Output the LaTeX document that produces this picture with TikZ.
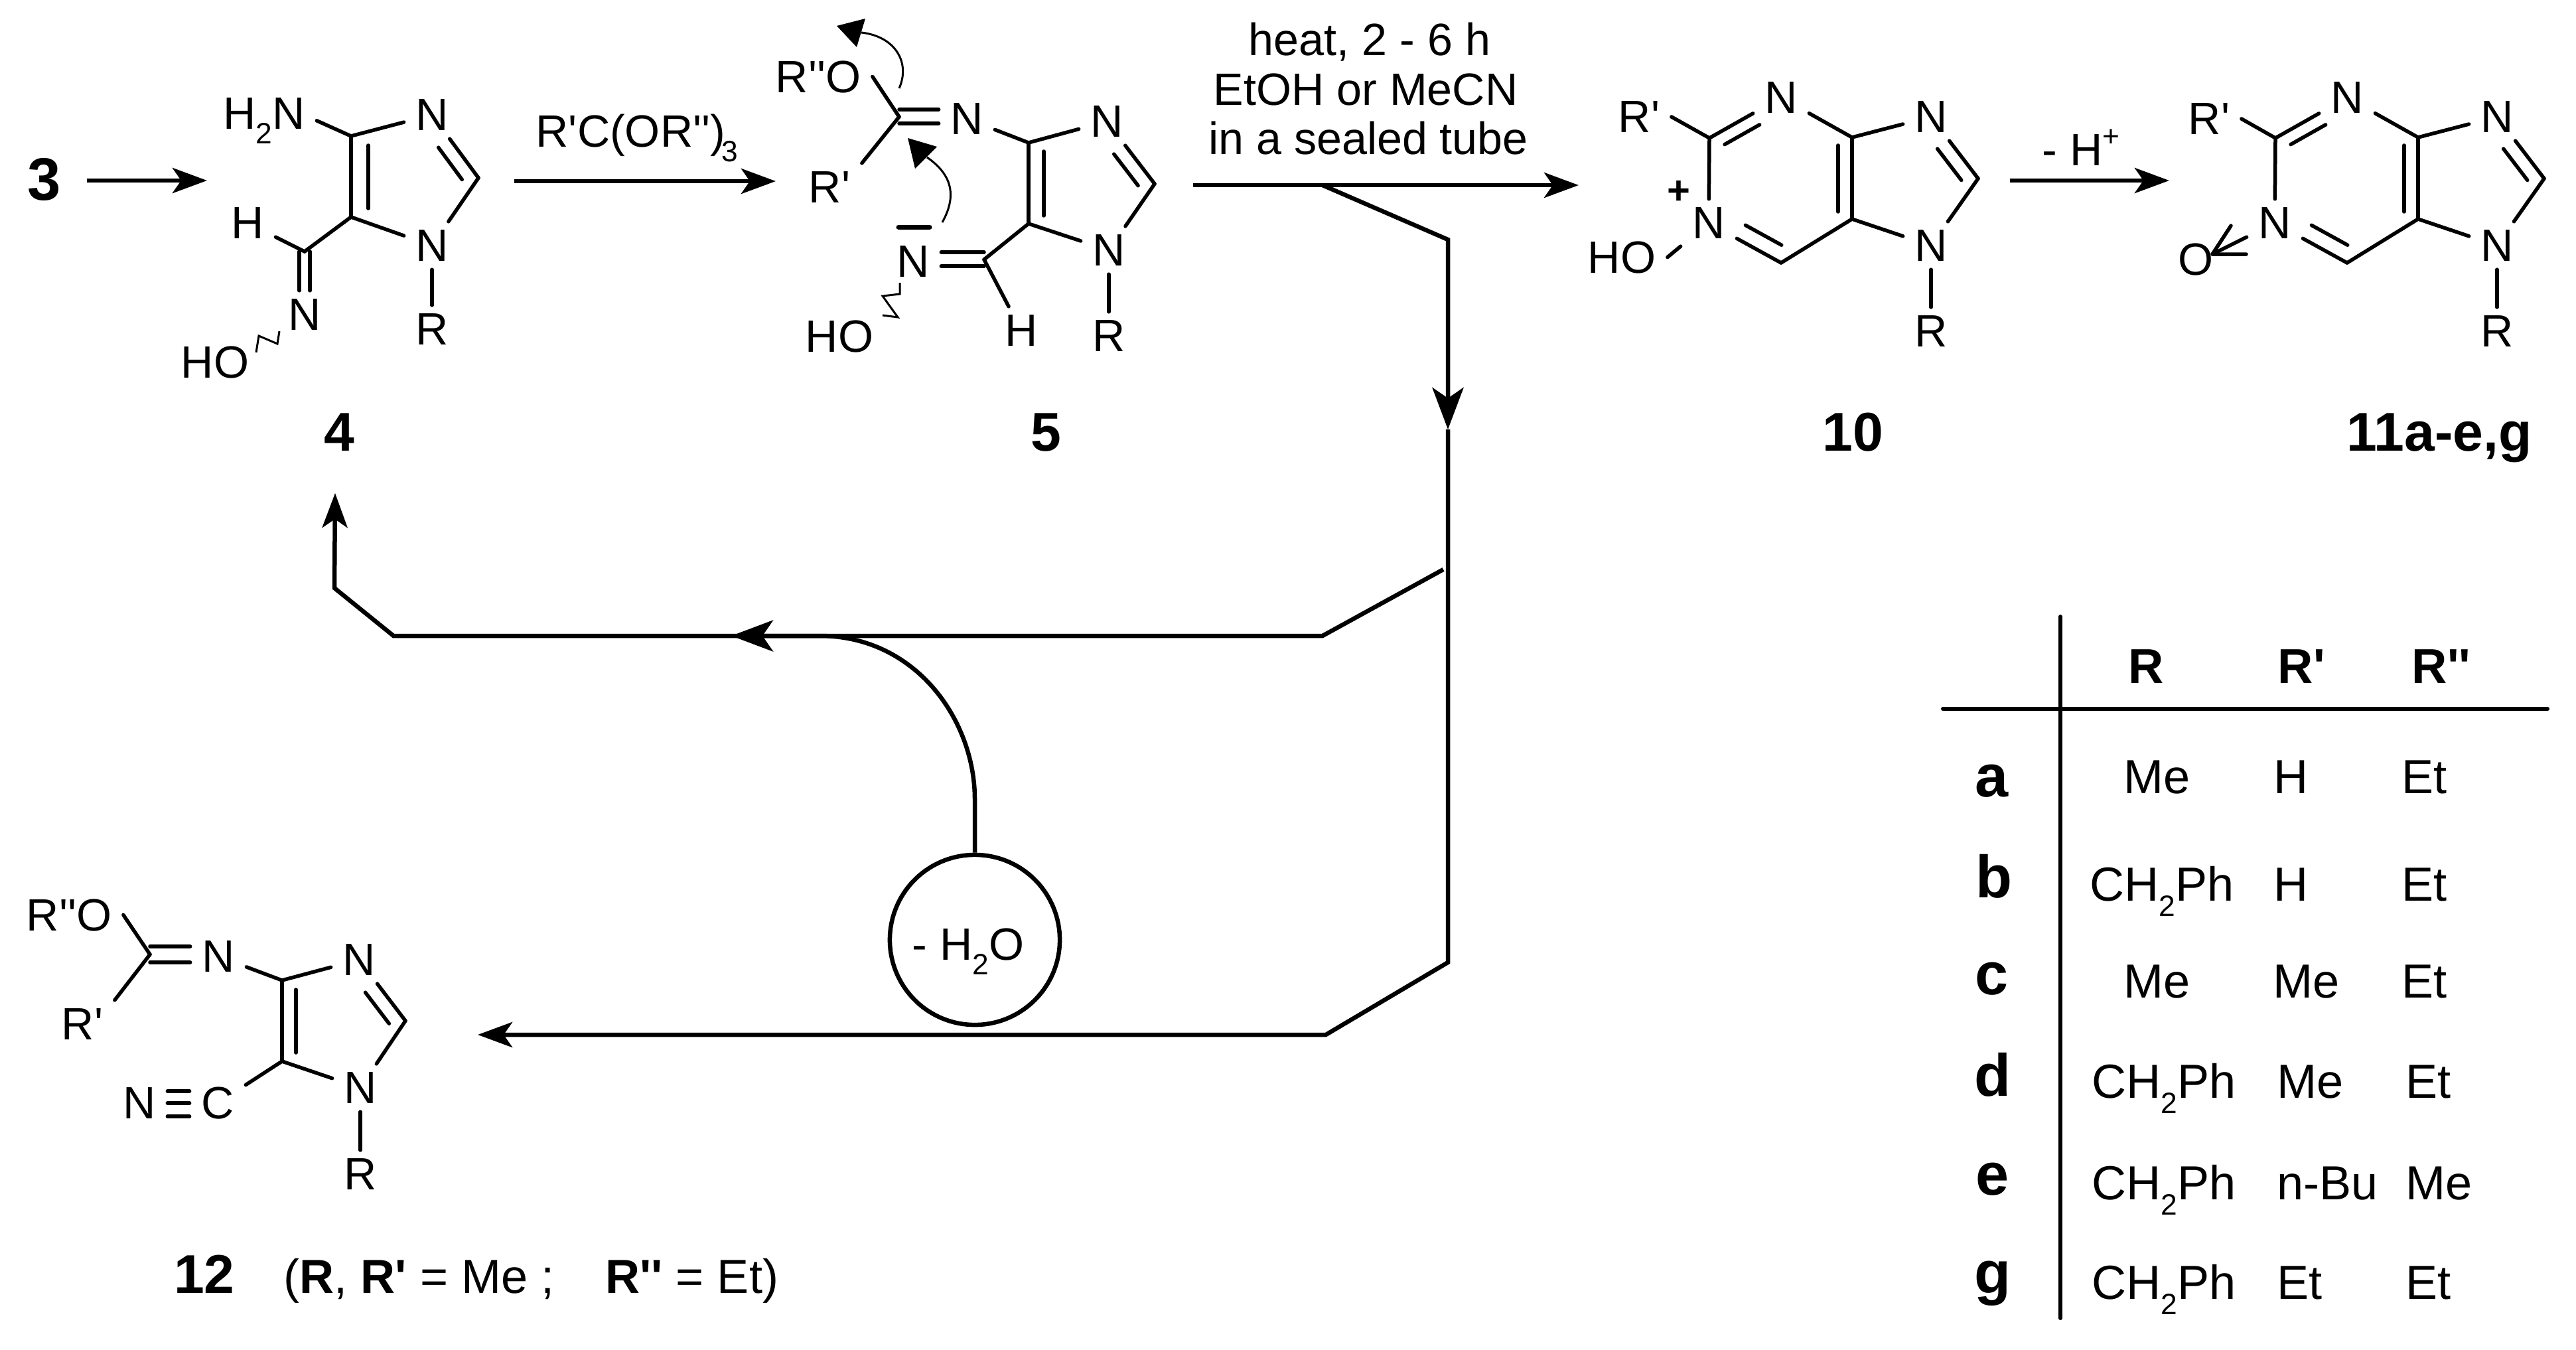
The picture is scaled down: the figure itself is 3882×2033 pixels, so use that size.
\documentclass[tikz,border=0pt]{standalone}
\usepackage{fontspec}
\setmainfont{Liberation Sans}[Ligatures=TeXOff]
\usetikzlibrary{positioning, arrows.meta, calc}
\newcommand{\chemsub}[1]{\raisebox{-0.33em}{\fontsize{12.6}{14}\selectfont #1}}
\newcommand{\chemsup}[1]{\raisebox{0.42em}{\fontsize{12.6}{14}\selectfont #1}}
\tikzset{
  chemfont/.style={font=\fontsize{19.4}{21}\selectfont},
  atom/.style={chemfont, inner xsep=0.17cm, inner ysep=0.12cm},
  lbl/.style={chemfont, inner sep=0pt, anchor=base},
  cmpd/.style={font=\fontsize{23.4}{25}\selectfont\bfseries, inner sep=0pt, anchor=base},
  cell/.style={font=\fontsize{20.5}{22}\selectfont, inner sep=0pt, anchor=base west},
  bond/.style={line width=0.055cm, line cap=round, line join=round},
  wig/.style={line width=0.03cm},
  innerbond/.style n args={4}{transform canvas={shift={(#1,#2)}}, shorten <=#3, shorten >=#4},
  path/.style={line width=0.065cm, line join=miter},
  rxn/.style={path, -{Stealth[length=5.2mm, width=3.8mm, inset=1.3mm]}},
  rxnbig/.style={path, -{Stealth[length=6.3mm, width=4.7mm, inset=1.6mm]}},
}

\begin{document}
\begin{tikzpicture}[x=0.01cm, y=-0.01cm, >=Stealth]
\useasboundingbox (0,0) rectangle (3882,2033);

% Composes 3 et 4
\node[cmpd, font=\fontsize{25.7}{27}\selectfont\bfseries] (cpdthree) at (67,301) {3};
\node[atom] (n3a) at (651,173) {N};
\node[atom] (n1a) at (651,370) {N};
\node[atom] (ra) at (651,496) {R};
\node[atom] (ha) at (373,336) {H};
\node[atom] (noa) at (459,474) {N};
\node[atom, anchor=base] (h2na) at (398,194) {H\chemsub{2}N};
\node[lbl] (hoa) at (324,569) {HO};
\node[cmpd] (cpdfour) at (511,679) {4};
\foreach \nm/\cx/\cy in {c4a/529/205, c5a/529/327, c2a/721/268, cha/459/379,
    wa1/386/531, wa2/390/506, wa3/418/518, wa4/421/499} {
  \coordinate (\nm) at (\cx,\cy);
}
\foreach \p/\q in {c4a/n3a, c2a/n3a, c2a/n1a, c5a/n1a, n1a/ra, c4a/c5a, c5a/cha, cha/ha, c4a/h2na.east} {
  \draw[bond] (\p) -- (\q);
}
\draw[bond, innerbond={26}{0}{0.14cm}{0.13cm}] (c4a) -- (c5a);
\draw[bond, innerbond={-17}{13}{0.13cm}{0cm}] (c2a) -- (n3a);
\draw[bond, transform canvas={shift={(-8,0)}}] (cha) -- (noa);
\draw[bond, transform canvas={shift={(8,0)}}] (cha) -- (noa);
\draw[wig] (wa1) -- (wa2) -- (wa3) -- (wa4);

% Compose 5
\node[atom] (n3b) at (1668,183) {N};
\node[atom] (n1b) at (1671,377) {N};
\node[atom] (rb) at (1671,506) {R};
\node[atom] (hb) at (1539,498) {H};
\node[atom] (nob) at (1376,394) {N};
\node[atom] (nxb) at (1457,179) {N};
\node[atom] (rpb) at (1250,282) {R'};
\node[atom, anchor=base] (orb) at (1233,139) {R''O};
\node[lbl] (hob) at (1265,530) {HO};
\node[cmpd] (cpdfive) at (1576,679) {5};
\foreach \nm/\cx/\cy in {c4b/1550/215, c5b/1550/337, c2b/1740/277, chb/1483/391, cxb/1355/176,
    mia/1354/342, mib/1401/342,
    wb1/1356/426, wb2/1356/443, wb3/1330/446, wb4/1353/478, wb5/1330/475,
    cua/1355/133, cub/1372/95, cuc/1350/55, cud/1298/49, tua/1304/28, tub/1261/39, tuc/1291/71,
    cla/1420/335, clb/1445/290, clc/1430/260, cld/1397/237, tla/1368/208, tlb/1412/221, tlc/1379/254} {
  \coordinate (\nm) at (\cx,\cy);
}
\foreach \p/\q in {c4b/n3b, c2b/n3b, c2b/n1b, c5b/n1b, n1b/rb, c4b/c5b, c5b/chb, chb/hb, c4b/nxb, cxb/orb.east, cxb/rpb.north east} {
  \draw[bond] (\p) -- (\q);
}
\draw[bond, innerbond={23}{0}{0.13cm}{0.12cm}] (c4b) -- (c5b);
\draw[bond, innerbond={-17}{13}{0.13cm}{0cm}] (c2b) -- (n3b);
\foreach \sy in {-11,10} {
  \draw[bond, transform canvas={shift={(0,\sy)}}] (cxb) -- (nxb.west |- cxb);
  \draw[bond, transform canvas={shift={(0,\sy)}}] (chb) -- (nob.east |- chb);
}
\draw[bond, line width=0.07cm] (mia) -- (mib);
\draw[wig] (wb1) -- (wb2) -- (wb3) -- (wb4) -- (wb5);
\draw[wig] (cua) .. controls (cub) and (cuc) .. (cud);
\draw[wig] (cla) .. controls (clb) and (clc) .. (cld);
\fill (tua) -- (tub) -- (tuc) -- cycle;
\fill (tla) -- (tlb) -- (tlc) -- cycle;

% Composes 10 et 11
\foreach \m/\dx in {d/0, e/853} {
  \node[atom] (nt\m) at (2684+\dx,147) {N};
  \node[atom] (np\m) at (2575+\dx,336) {N};
  \node[atom] (n3\m) at (2910+\dx,176) {N};
  \node[atom] (n1\m) at (2910+\dx,370) {N};
  \node[atom] (r\m) at (2910+\dx,499) {R};
  \foreach \nm/\cx/\cy in {c2/2981/269, c4/2791/207, c5/2791/330, cr/2576/208, ch/2684/396} {
    \coordinate (\nm\m) at (\cx+\dx,\cy);
  }
  \foreach \p/\q in {cr/np, ch/np, ch/c5, c4/c5, c4/nt, c4/n3, c2/n3, c2/n1, c5/n1, n1/r, cr/nt} {
    \draw[bond] (\p\m) -- (\q\m);
  }
  \draw[bond, innerbond={-21}{0}{0.12cm}{0.11cm}] (c4\m) -- (c5\m);
  \draw[bond, innerbond={-18}{12}{0.12cm}{0cm}] (c2\m) -- (n3\m);
  \draw[bond, innerbond={10}{17}{0.15cm}{0cm}] (cr\m) -- (nt\m);
  \draw[bond, innerbond={13}{-20}{0.14cm}{0cm}] (ch\m) -- (np\m);
}
\node[atom] (rpd) at (2470,176) {R'};
\node[atom] (rpe) at (3329,179) {R'};
\node[atom, anchor=base] (hod) at (2444,411) {HO};
\node[atom] (oxe) at (3309,391) {O};
\node[lbl, font=\fontsize{17}{19}\selectfont\bfseries] (chgd) at (2530,307) {+};
\node[cmpd] (cpdten) at (2792,679) {10};
\node[cmpd] (cpdeleven) at (3676,679) {11a-e,g};
\foreach \nm/\cx/\cy in {tipe/3334/383, bae/3362/340, bbe/3385/383} {
  \coordinate (\nm) at (\cx,\cy);
}
\draw[bond] (crd) -- (rpd.east);
\draw[bond] (cre) -- (rpe.east);
\draw[bond] (npd) -- (hod.east);
\draw[bond] (npe) -- (tipe);
\draw[bond] (bae) -- (tipe) -- (bbe);

% Compose 12
\node[atom] (n3f) at (541,1446) {N};
\node[atom] (n1f) at (543,1639) {N};
\node[atom] (rf) at (543,1769) {R};
\node[atom] (nxf) at (329,1441) {N};
\node[atom] (rpf) at (124,1543) {R'};
\node[atom, anchor=base] (orf) at (104,1402) {R''O};
\node[atom] (cnf) at (328,1662) {C};
\node[atom] (ntf) at (210,1662) {N};
\node[cmpd] (cpdtwelve) at (308,1948) {12};
\node[lbl, anchor=base west, font=\fontsize{20.5}{22}\selectfont] (notef) at (427,1948) {(\textbf{R}, \textbf{R'} = Me ;\hspace{1.07em}\textbf{R''} = Et)};
\foreach \nm/\cx/\cy in {c4f/425/1477, c5f/425/1599, c2f/611/1538, cxf/226/1438} {
  \coordinate (\nm) at (\cx,\cy);
}
\foreach \p/\q in {c4f/n3f, c2f/n3f, c2f/n1f, c5f/n1f, n1f/rf, c4f/c5f, c4f/nxf, c5f/cnf, cxf/orf.east, cxf/rpf.north east} {
  \draw[bond] (\p) -- (\q);
}
\draw[bond, innerbond={21}{0}{0.14cm}{0.13cm}] (c4f) -- (c5f);
\draw[bond, innerbond={-18}{13}{0.11cm}{0cm}] (c2f) -- (n3f);
\foreach \sy in {-12,12} {
  \draw[bond, transform canvas={shift={(0,\sy)}}] (cxf) -- (nxf.west |- cxf);
}
\foreach \sy in {-18,0,20} {
  \draw[bond, transform canvas={shift={(0,\sy)}}] (ntf) -- (cnf);
}

% Fleches
\foreach \nm/\cx/\cy in {aa/131/272, ab/312/272, ac/775/273, ad/1169/273, ae/1798/279, af/2379/279,
    ag/3029/272, ah/3269/272, brs/1993/279, brc/2182/361, brm/2182/647, brd/2182/1450, bre/1998/1559, brf/720/1559,
    bls/2175/858, blc/1993/958, bld/593/958, ble/504/886, blf/505/743,
    kink/1469/1204, cva/1469/1085, cvb/1380/958, cvc/1235/958, cvd/1102/958} {
  \coordinate (\nm) at (\cx,\cy);
}
\draw[rxn] (aa) -- (ab);
\draw[rxn] (ac) -- (ad);
\draw[rxn] (ae) -- (af);
\draw[rxn] (ag) -- (ah);
\draw[rxnbig] (brs) -- (brc) -- (brm);
\draw[rxn] (brm) -- (brd) -- (bre) -- (brf);
\draw[rxn] (bls) -- (blc) -- (bld) -- (ble) -- (blf);

\node[draw, circle, path, minimum size=2.56cm, inner sep=0pt] (water) at (1469,1416) {};
\node[lbl] (waterlbl) at (1459,1446) {- H\chemsub{2}O};
\draw[rxnbig] (water.north) -- (kink) .. controls (cva) and (cvb) .. (cvc) -- (cvd);

% Conditions
\node[lbl, anchor=base west] (reagent) at (807,221) {R'C(OR'')\kern-0.08em\chemsub{3}};
\node[lbl] (condi) at (2064,83) {heat, 2 - 6 h};
\node[lbl] (condii) at (2058,158) {EtOH or MeCN};
\node[lbl] (condiii) at (2062,232) {in a sealed tube};
\node[lbl, anchor=base west] (lossh) at (3077,249) {- H\chemsup{+}};

% Tableau
\coordinate (tva) at (3105,929);
\coordinate (tvb) at (3105,1986);
\coordinate (tha) at (2928,1068);
\coordinate (thb) at (3839,1068);
\draw[bond, line width=0.06cm] (tva) -- (tvb);
\draw[bond, line width=0.06cm] (tha) -- (thb);
\foreach \tl/\tx/\ty in {a/3001/1200, b/3005/1352, c/3001/1498, d/3003/1651, e/3002/1800, g/3003/1948} {
  \node[cmpd, font=\fontsize{25.6}{27}\selectfont\bfseries] (row\tl) at (\tx,\ty) {\tl};
}
\foreach \tl/\tx in {R/3207, R'/3432, R''/3634} {
  \node[cell, font=\fontsize{21}{23}\selectfont\bfseries] (head\tx) at (\tx,1029) {\tl};
}
\foreach \tl/\tx/\ty in {Me/3200/1195, H/3426/1195, Et/3619/1195,
    CH\chemsub{2}Ph/3149/1357, H/3426/1357, Et/3619/1357,
    Me/3200/1503, Me/3425/1503, Et/3619/1503,
    CH\chemsub{2}Ph/3152/1654, Me/3431/1654, Et/3625/1654,
    CH\chemsub{2}Ph/3152/1807, n-Bu/3431/1807, Me/3625/1807,
    CH\chemsub{2}Ph/3152/1957, Et/3431/1957, Et/3625/1957} {
  \node[cell] (cell\tx\ty) at (\tx,\ty) {\tl};
}
\end{tikzpicture}
\end{document}
